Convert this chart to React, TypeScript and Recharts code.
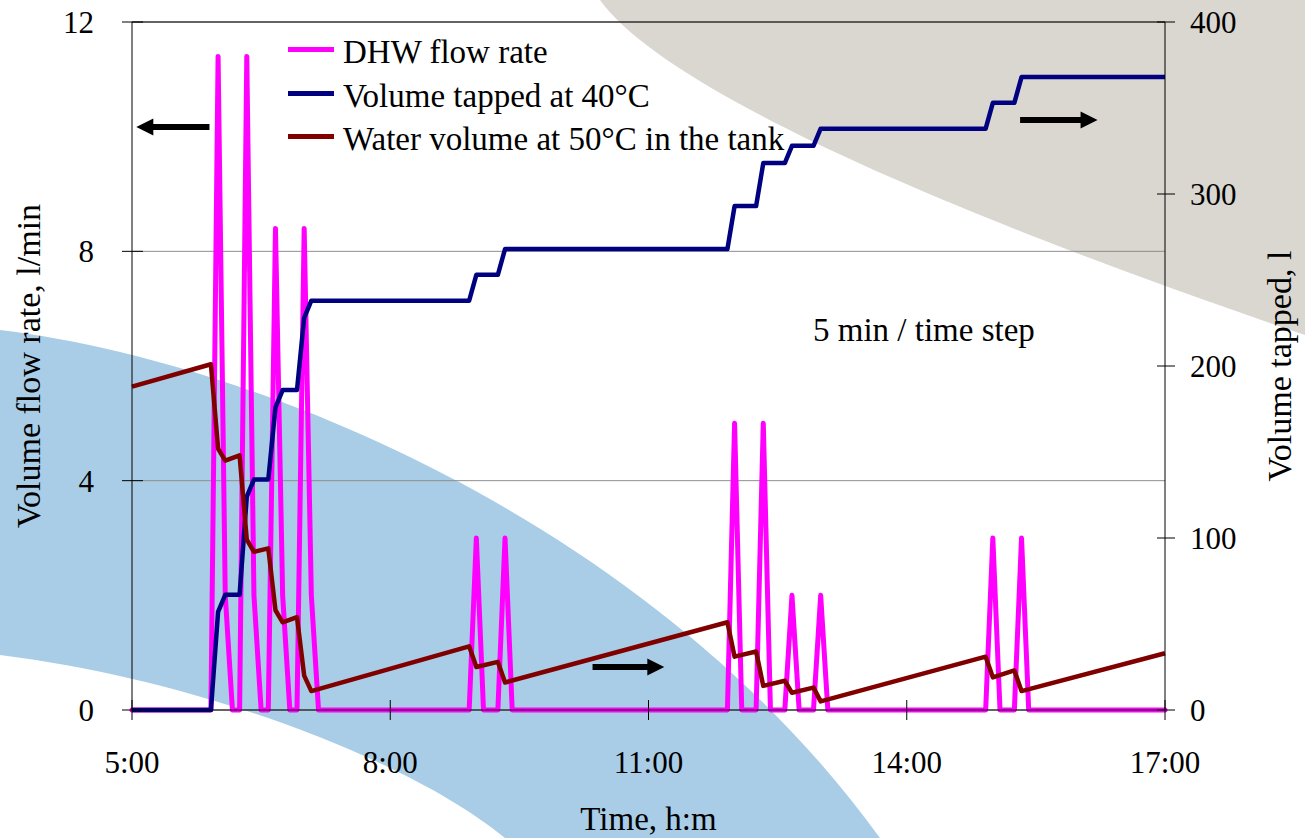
import {
  LineChart,
  Line,
  XAxis,
  YAxis,
  CartesianGrid,
  Legend,
  ReferenceLine,
} from "recharts";

const SERIF = '"Liberation Serif", "Times New Roman", serif';

// 5 min time step, only the kink points of each curve
const flowTimes = [
  "5:00", "5:55", "6:00", "6:05", "6:10", "6:15", "6:20", "6:25", "6:30", "6:35",
  "6:40", "6:45", "6:50", "6:55", "7:00", "7:05", "7:10", "8:55", "9:00", "9:05",
  "9:15", "9:20", "9:25", "11:55", "12:00", "12:05", "12:15", "12:20", "12:25", "12:35",
  "12:40", "12:45", "12:55", "13:00", "13:05", "14:55", "15:00", "15:05", "15:15", "15:20",
  "15:25", "17:00",
];
const flowValues = [
  0, 0, 11.4, 2, 0, 0, 11.4, 2, 0, 0,
  8.4, 2, 0, 0, 8.4, 2, 0, 0, 3, 0,
  0, 3, 0, 0, 5, 0, 0, 5, 0, 0,
  2, 0, 0, 2, 0, 0, 3, 0, 0, 3,
  0, 0,
];

const stepTimes = [
  "5:00", "5:55", "6:00", "6:05", "6:15", "6:20", "6:25", "6:35", "6:40", "6:45",
  "6:55", "7:00", "7:05", "8:55", "9:00", "9:15", "9:20", "11:55", "12:00", "12:15",
  "12:20", "12:35", "12:40", "12:55", "13:00", "14:55", "15:00", "15:15", "15:20", "17:00",
];
const tappedValues = [
  0, 0, 57, 67, 67, 124, 134, 134, 176, 186,
  186, 228, 238, 238, 253, 253, 268, 268, 293, 293,
  318, 318, 328, 328, 338, 338, 353, 353, 368, 368,
];
const tankValues = [
  188, 201, 152, 145, 148, 99, 92, 94, 58, 51,
  54, 20, 11, 37, 25, 28, 16, 51, 31, 34,
  14, 17, 10, 13, 5, 31, 19, 23, 11, 33,
];

const timeTicks = ["5:00", "8:00", "11:00", "14:00", "17:00"];
const flowTicks = [0, 4, 8, 12];
const volumeTicks = [0, 100, 200, 300, 400];

// annotation arrows: tail -> tip, height on the left axis
const arrows = [
  { from: "5:54", to: "5:03", y: 10.17 },
  { from: "10:21", to: "11:11", y: 0.75 },
  { from: "15:19", to: "16:13", y: 10.29 },
];

const series = [
  { name: "DHW flow rate", color: "#FF00FF" },
  { name: "Volume tapped at 40°C", color: "#000080" },
  { name: "Water volume at 50°C in the tank", color: "#800000" },
];

const toMin = (s: string) => {
  const [h, m] = s.split(":").map(Number);
  return h * 60 + m;
};
const fmtTime = (v: number) => `${Math.floor(v / 60)}:${String(v % 60).padStart(2, "0")}`;

const flowData = flowTimes.map((t, i) => ({ t: toMin(t), v: flowValues[i] }));
const tappedData = stepTimes.map((t, i) => ({ t: toMin(t), v: tappedValues[i] }));
const tankData = stepTimes.map((t, i) => ({ t: toMin(t), v: tankValues[i] }));

const LeftTick = ({ x, y, payload }: any) => (
  <g>
    <line x1={x - 10} x2={x + 11} y1={y} y2={y} stroke="#000" />
    <text x={x - 38} y={y} dy="0.35em" textAnchor="end" fontFamily={SERIF} fontSize={31} fill="#000">
      {payload.value}
    </text>
  </g>
);

const RightTick = ({ x, y, payload }: any) => (
  <g>
    <line x1={x - 8} x2={x + 10} y1={y} y2={y} stroke="#000" />
    <text x={x + 25} y={y} dy="0.35em" textAnchor="start" fontFamily={SERIF} fontSize={31} fill="#000">
      {payload.value}
    </text>
  </g>
);

const BottomTick = ({ x, y, payload }: any) => (
  <g>
    <line x1={x} x2={x} y1={y - 10} y2={y + 10} stroke="#000" />
    <text x={x} y={y + 63} textAnchor="middle" fontFamily={SERIF} fontSize={31} fill="#000">
      {fmtTime(payload.value)}
    </text>
  </g>
);

const Arrow = (props: any) => {
  const { x1, y1, x2, y2 } = props;
  if ([x1, y1, x2, y2].some((n) => typeof n !== "number" || isNaN(n))) return <g />;
  const len = Math.hypot(x2 - x1, y2 - y1) || 1;
  const ux = (x2 - x1) / len;
  const uy = (y2 - y1) / len;
  const hl = 17;
  const hw = 8.5;
  const bx = x2 - ux * hl;
  const by = y2 - uy * hl;
  return (
    <g>
      <line x1={x1} y1={y1} x2={bx + ux} y2={by + uy} stroke="#000" strokeWidth={6} />
      <polygon
        points={`${x2},${y2} ${bx - uy * hw},${by + ux * hw} ${bx + uy * hw},${by - ux * hw}`}
        fill="#000"
      />
    </g>
  );
};

const LeftTitle = ({ viewBox }: any) => {
  const cx = 40;
  const cy = viewBox ? viewBox.y + viewBox.height / 2 : 366;
  return (
    <text x={cx} y={cy} transform={`rotate(-90 ${cx} ${cy})`} textAnchor="middle" fontFamily={SERIF} fontSize={34} fill="#000">
      Volume flow rate, l/min
    </text>
  );
};

const RightTitle = ({ viewBox }: any) => {
  const cx = 1291;
  const cy = viewBox ? viewBox.y + viewBox.height / 2 : 366;
  return (
    <text x={cx} y={cy} transform={`rotate(-90 ${cx} ${cy})`} textAnchor="middle" fontFamily={SERIF} fontSize={34} fill="#000">
      Volume tapped, l
    </text>
  );
};

const LegendBox = () => (
  <div style={{ fontFamily: SERIF, fontSize: 33, lineHeight: "43.6px", color: "#000" }}>
    {series.map((s) => (
      <div key={s.name} style={{ display: "flex", alignItems: "center", whiteSpace: "nowrap" }}>
        <span
          style={{
            display: "inline-block",
            width: 46,
            height: 5,
            background: s.color,
            marginRight: 9,
            position: "relative",
            top: -3,
          }}
        />
        <span>{s.name}</span>
      </div>
    ))}
  </div>
);

export default function App() {
  return (
    <div
      style={{
        position: "absolute",
        left: 0,
        top: 0,
        width: 1305,
        height: 838,
        background: "#fff",
        overflow: "hidden",
      }}
    >
      {/* slide background */}
      <svg width={1305} height={838} style={{ position: "absolute", left: 0, top: 0 }}>
        <path d="M600,0 C650,70 850,180 1305,335 L1305,0 Z" fill="#DAD6D0" />
        <path d="M0,330 C250,360 650,520 880,838 L505,838 C410,760 200,680 0,655 Z" fill="#A9CDE7" />
        <text x={813} y={341} fontFamily={SERIF} fontSize={33} fill="#000">
          5 min / time step
        </text>
      </svg>
      <div style={{ position: "absolute", left: 0, top: 0 }}>
        <LineChart width={1305} height={838} margin={{ top: 22, right: 60, bottom: 68, left: 52 }}>
          <CartesianGrid yAxisId="left" vertical={false} stroke="#8f8f8f" />
          <XAxis
            dataKey="t"
            type="number"
            domain={[300, 1020]}
            ticks={timeTicks.map(toMin)}
            height={60}
            stroke="#000"
            tickLine={false}
            tickSize={0}
            tickMargin={0}
            tick={<BottomTick />}
            label={{ value: "Time, h:m", position: "bottom", offset: 37, fontFamily: SERIF, fontSize: 33, fill: "#000" }}
          />
          <YAxis
            yAxisId="left"
            domain={[0, 12]}
            ticks={flowTicks}
            width={80}
            stroke="#000"
            tickLine={false}
            tickSize={0}
            tickMargin={0}
            tick={<LeftTick />}
            label={<LeftTitle />}
          />
          <YAxis
            yAxisId="right"
            orientation="right"
            domain={[0, 400]}
            ticks={volumeTicks}
            width={80}
            stroke="#000"
            tickLine={false}
            tickSize={0}
            tickMargin={0}
            tick={<RightTick />}
            label={<RightTitle />}
          />
          <ReferenceLine yAxisId="left" y={12} stroke="#000" />
          <Legend
            layout="horizontal"
            verticalAlign="middle"
            align="center"
            content={<LegendBox />}
            wrapperStyle={{ position: "absolute", left: 288, top: 31, width: "auto", height: "auto" }}
          />
          <Line
            yAxisId="left"
            data={flowData}
            dataKey="v"
            name={series[0].name}
            type="linear"
            stroke={series[0].color}
            strokeWidth={5}
            strokeLinejoin="round"
            strokeLinecap="round"
            dot={false}
            activeDot={false}
            isAnimationActive={false}
          />
          <Line
            yAxisId="right"
            data={tappedData}
            dataKey="v"
            name={series[1].name}
            type="linear"
            stroke={series[1].color}
            strokeWidth={4.5}
            strokeLinejoin="round"
            dot={false}
            activeDot={false}
            isAnimationActive={false}
          />
          <Line
            yAxisId="right"
            data={tankData}
            dataKey="v"
            name={series[2].name}
            type="linear"
            stroke={series[2].color}
            strokeWidth={4.5}
            strokeLinejoin="round"
            dot={false}
            activeDot={false}
            isAnimationActive={false}
          />
          {arrows.map((a) => (
            <ReferenceLine
              key={a.from}
              yAxisId="left"
              segment={[
                { x: toMin(a.from), y: a.y },
                { x: toMin(a.to), y: a.y },
              ]}
              shape={<Arrow />}
            />
          ))}
        </LineChart>
      </div>
    </div>
  );
}
